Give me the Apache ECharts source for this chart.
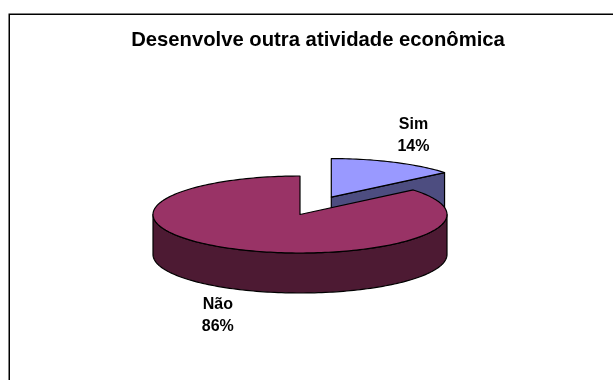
<!DOCTYPE html>
<html>
<head>
<meta charset="utf-8">
<style>html,body{margin:0;padding:0;background:#fff}#chart{width:613px;height:380px}</style>
<script src="https://cdn.jsdelivr.net/npm/echarts@6/dist/echarts.min.js"></script>
</head>
<body>
<div id="chart"></div>
<script>
var categories = ['Sim', 'Não'];
var shares = [14, 86];
var topColors = ['#9999ff', '#993366'];
var wallColors = ['#4d4d80', '#4d1a33'];
var titleText = 'Desenvolve outra atividade econômica';

// Tilted pie geometry
var cx = 300, cy = 214.5, rx = 147, ry = 38.5, depth = 40;
var explode = { 'Sim': 0.5, 'Não': 0 };
var total = shares.reduce(function (a, b) { return a + b; }, 0);

function rim(theta, ox, oy) {
  return [ox + rx * Math.sin(theta), oy - ry * Math.cos(theta)];
}
function arc(a, b, ox, oy) {
  var n = Math.max(2, Math.ceil(Math.abs(b - a) * 40)), pts = [];
  for (var i = 0; i <= n; i++) pts.push(rim(a + (b - a) * i / n, ox, oy));
  return pts;
}
function down(pts) {
  return pts.map(function (p) { return [p[0], p[1] + depth]; });
}
function poly(points, fill) {
  return {
    type: 'polygon',
    shape: { points: points },
    style: { fill: fill, stroke: '#000', lineWidth: 1.2, lineJoin: 'round' }
  };
}

function renderSlice(params, api) {
  var i = params.dataIndex;
  var start = 0;
  for (var k = 0; k < i; k++) start += shares[k];
  var a = start / total * 2 * Math.PI;
  var b = (start + api.value(0)) / total * 2 * Math.PI;
  var mid = (a + b) / 2;
  var e = explode[categories[i]];
  var ox = cx + e * rx * Math.sin(mid);
  var oy = cy - e * ry * Math.cos(mid);
  var apex = [ox, oy];
  var kids = [];

  // Cut face at the slice's trailing edge when it faces the viewer
  if (b < Math.PI) {
    var cut = [apex, rim(b, ox, oy)];
    kids.push(poly(cut.concat(down(cut).reverse()), wallColors[i]));
  }
  // Outer wall: only the part of the rim on the near half
  var from = Math.max(a, Math.PI / 2), to = Math.min(b, 3 * Math.PI / 2);
  if (to > from) {
    var edge = arc(from, to, ox, oy);
    kids.push(poly(edge.concat(down(edge).reverse()), wallColors[i]));
  }
  // Top face
  kids.push(poly([apex].concat(arc(a, b, ox, oy)), topColors[i]));

  // Two-line label outside the rim
  var anchor = rim(mid, ox, oy);
  var lx = anchor[0] + 46 * Math.sin(mid);
  var ly = anchor[1] - 29 * Math.cos(mid) + (Math.cos(mid) < 0 ? depth : 0);
  kids.push({
    type: 'text',
    style: {
      x: lx, y: ly,
      text: categories[i] + '\n' + api.value(0) + '%',
      align: 'center', verticalAlign: 'middle',
      font: 'bold 16px "Liberation Sans", Arial, sans-serif',
      lineHeight: 22, fill: '#000'
    }
  });
  return { type: 'group', children: kids };
}

var chart = echarts.init(document.getElementById('chart'), null, { renderer: 'canvas' });
chart.setOption({
  animation: false,
  backgroundColor: '#ffffff',
  title: {
    text: titleText,
    left: 313, top: 25, textAlign: 'center',
    textStyle: { fontFamily: '"Liberation Sans", Arial, sans-serif', fontWeight: 'bold', fontSize: 20.25, color: '#000' }
  },
  graphic: [{
    type: 'polyline',
    silent: true,
    shape: { points: [[9.25, 381], [9.25, 14.25], [614, 14.25]] },
    style: { stroke: '#000', lineWidth: 1.5, fill: null }
  }],
  series: [{
    type: 'custom',
    coordinateSystem: 'none',
    renderItem: renderSlice,
    data: shares.map(function (v) { return [v]; })
  }]
});
</script>
</body>
</html>
